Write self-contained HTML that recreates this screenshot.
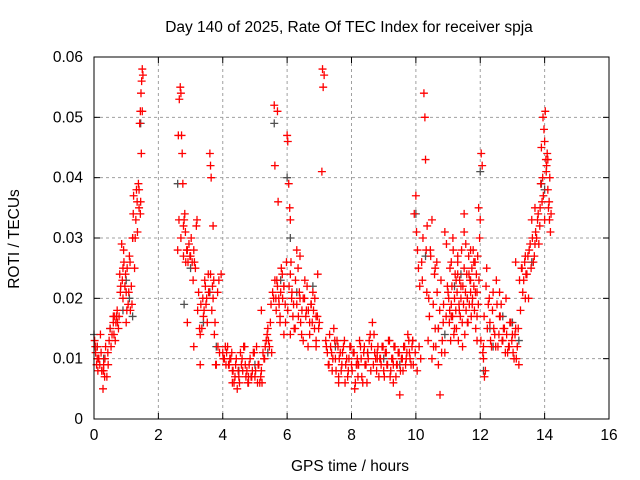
<!DOCTYPE html>
<html><head><meta charset="utf-8"><style>
html,body{margin:0;padding:0;background:#fff;}
svg{display:block;font-family:"Liberation Sans",sans-serif;}
</style></head><body>
<svg id="chart" width="640" height="480" viewBox="0 0 640 480">
<text x="349" y="32" font-size="15.5" text-anchor="middle">Day 140 of 2025, Rate Of TEC Index for receiver spja</text>
<text x="350" y="471" font-size="15.5" text-anchor="middle">GPS time / hours</text>
<text x="19" y="239" font-size="15.5" text-anchor="middle" transform="rotate(-90 19 239)">ROTI / TECUs</text>
<g id="grid"></g><g id="ticks"></g><g id="marks"></g>
<rect x="94" y="57" width="515" height="362" fill="none" stroke="#000" stroke-width="1"/>
</svg>
<script>
const xTicks=[0,2,4,6,8,10,12,14,16];
const yTicks=[0,0.01,0.02,0.03,0.04,0.05,0.06];
const yTickLabels=["0","0.01","0.02","0.03","0.04","0.05","0.06"];
// black series (behind)
const blackT=[0.0,0.1,0.3,0.5,0.9,1.1,1.2,1.45,2.6,2.8,3.0,3.4,3.8,4.5,5.4,5.6,5.8,6.0,6.3,6.8,7.5,8.5,9.5,10.0,10.3,10.7,11.2,11.6,12.0,12.1,12.3,12.7,13.2,13.6,13.9,14.0,0.7,1.0,3.6,5.0,6.1,9.0,10.9,11.4,12.4,13.0];
const blackV=[0.014,0.012,0.01,0.015,0.018,0.02,0.017,0.049,0.039,0.019,0.025,0.016,0.012,0.008,0.011,0.049,0.023,0.04,0.021,0.022,0.012,0.011,0.009,0.034,0.027,0.015,0.022,0.02,0.041,0.008,0.015,0.017,0.013,0.026,0.039,0.038,0.017,0.023,0.021,0.009,0.03,0.01,0.014,0.024,0.012,0.016];
// red series
const redT=[0.02,0.05,0.08,0.1,0.12,0.15,0.18,0.2,0.22,0.25,0.28,0.3,0.33,0.36,0.4,0.43,0.47,0.5,0.53,0.56,0.6,0.63,0.66,0.7,0.73,0.76,0.8,0.83,0.86,0.9,0.93,0.96,1.0,1.03,1.06,1.1,1.13,1.16,1.2,1.23,1.26,1.3,1.32,1.35,1.38,1.4,1.42,1.44,1.46,1.48,1.5,1.52,1.5,1.47,1.45,
2.6,2.62,2.65,2.68,2.7,2.72,2.74,2.76,2.78,2.8,2.82,2.85,2.9,2.95,3.0,3.05,3.1,3.15,3.2,3.25,3.3,3.35,3.38,3.42,3.46,3.5,3.55,3.58,3.6,3.62,3.64,3.68,3.72,3.76,3.8,3.85,3.9,3.95,
4.0,4.05,4.1,4.15,4.2,4.25,4.3,4.35,4.4,4.45,4.5,4.55,4.6,4.65,4.7,4.75,4.8,4.85,4.9,4.95,5.0,5.05,5.1,5.15,5.2,5.25,5.3,5.35,5.4,5.45,5.5,5.55,5.6,5.62,5.65,5.68,5.7,5.72,5.75,5.78,5.8,5.85,5.9,5.95,6.0,6.02,6.05,6.08,6.1,6.12,6.15,6.2,6.25,6.3,6.35,6.4,6.45,6.5,6.55,6.6,6.65,6.7,6.75,6.8,6.85,6.9,6.95,7.0,7.08,7.1,7.12,7.15,7.2,7.25,
7.3,7.35,7.4,7.45,7.5,7.55,7.6,7.65,7.7,7.75,7.8,7.85,7.9,7.95,8.0,8.05,8.1,8.15,8.2,8.25,8.3,8.35,8.4,8.45,8.5,8.55,8.6,8.65,8.7,8.75,8.8,8.85,8.9,8.95,9.0,9.05,9.1,9.15,9.2,9.25,9.3,9.35,9.4,9.45,9.5,9.55,9.6,9.65,9.7,9.75,9.8,9.85,9.9,9.95,10.0,10.02,10.05,10.08,10.1,10.15,10.2,10.25,10.28,10.3,10.32,10.35,10.4,10.45,10.5,10.55,10.6,10.65,10.7,10.75,10.8,10.85,10.9,10.95,
11.0,11.05,11.1,11.15,11.2,11.25,11.3,11.35,11.4,11.45,11.5,11.55,11.6,11.65,11.7,11.75,11.8,11.85,11.9,11.95,12.0,12.03,12.06,12.1,12.13,12.16,12.2,12.25,12.3,12.35,12.4,12.45,12.5,12.55,12.6,12.65,12.7,12.75,12.8,12.85,12.9,12.95,13.0,13.05,13.1,13.15,13.2,13.25,13.3,13.35,13.4,13.45,13.5,13.55,13.6,13.65,13.7,13.75,13.8,13.85,13.88,13.9,13.92,13.95,13.98,14.0,14.02,14.05,14.08,14.1,14.12,14.15,14.18,14.2,
0.1,0.3,0.6,0.9,1.0,1.2,2.9,3.1,3.3,3.7,4.3,4.8,5.2,5.9,6.1,6.4,6.9,7.6,8.2,8.8,9.3,9.9,10.6,11.1,11.3,11.5,11.7,11.9,12.1,12.6,13.1,13.4,13.7,14.0,14.1];
const redV=[0.013,0.011,0.009,0.012,0.008,0.01,0.009,0.014,0.011,0.008,0.005,0.009,0.007,0.012,0.007,0.011,0.013,0.015,0.012,0.014,0.016,0.017,0.013,0.017,0.016,0.015,0.024,0.022,0.029,0.02,0.026,0.022,0.021,0.025,0.019,0.027,0.018,0.022,0.03,0.037,0.025,0.033,0.038,0.031,0.039,0.035,0.049,0.051,0.054,0.056,0.058,0.057,0.051,0.044,0.036,
0.028,0.047,0.053,0.055,0.054,0.047,0.044,0.039,0.032,0.033,0.034,0.026,0.016,0.029,0.027,0.026,0.028,0.025,0.033,0.021,0.014,0.015,0.02,0.018,0.022,0.02,0.024,0.021,0.044,0.042,0.04,0.022,0.023,0.016,0.009,0.012,0.011,0.024,
0.011,0.01,0.009,0.012,0.009,0.01,0.008,0.006,0.009,0.005,0.007,0.011,0.01,0.012,0.009,0.008,0.006,0.01,0.007,0.011,0.007,0.012,0.009,0.006,0.008,0.011,0.01,0.013,0.015,0.012,0.019,0.021,0.052,0.042,0.02,0.023,0.051,0.036,0.019,0.016,0.021,0.024,0.022,0.016,0.047,0.046,0.039,0.035,0.033,0.026,0.021,0.019,0.015,0.028,0.017,0.027,0.014,0.02,0.023,0.018,0.012,0.016,0.019,0.021,0.015,0.012,0.024,0.016,0.041,0.058,0.055,0.057,0.013,0.011,
0.009,0.012,0.008,0.015,0.01,0.013,0.007,0.011,0.009,0.012,0.006,0.01,0.008,0.012,0.009,0.011,0.005,0.009,0.007,0.013,0.01,0.006,0.012,0.009,0.011,0.013,0.008,0.016,0.014,0.01,0.011,0.007,0.01,0.012,0.008,0.011,0.009,0.013,0.007,0.01,0.006,0.012,0.009,0.011,0.004,0.01,0.008,0.012,0.01,0.014,0.011,0.009,0.013,0.034,0.037,0.031,0.028,0.025,0.012,0.01,0.023,0.054,0.05,0.043,0.028,0.032,0.02,0.028,0.033,0.012,0.015,0.026,0.009,0.004,0.011,0.016,0.031,0.029,
0.021,0.018,0.026,0.03,0.015,0.023,0.027,0.018,0.022,0.012,0.034,0.029,0.016,0.024,0.028,0.019,0.026,0.021,0.017,0.035,0.033,0.044,0.042,0.01,0.007,0.008,0.025,0.019,0.016,0.012,0.021,0.014,0.023,0.012,0.017,0.019,0.013,0.015,0.02,0.011,0.012,0.016,0.014,0.01,0.015,0.012,0.009,0.018,0.025,0.023,0.027,0.024,0.02,0.029,0.033,0.026,0.035,0.03,0.034,0.032,0.039,0.045,0.036,0.05,0.048,0.046,0.051,0.041,0.044,0.038,0.035,0.033,0.031,0.034,
0.01,0.008,0.017,0.025,0.016,0.03,0.028,0.012,0.009,0.032,0.006,0.007,0.018,0.014,0.014,0.02,0.017,0.006,0.009,0.01,0.009,0.013,0.025,0.017,0.024,0.031,0.023,0.013,0.012,0.021,0.026,0.02,0.029,0.033,0.043];
// additional red observations (dense regions)
const redT2=[0.04,0.14,0.24,0.34,0.44,0.62,0.68,0.72,0.78,0.82,0.88,0.92,0.98,1.02,1.08,1.12,1.18,1.22,1.28,1.34,1.4,1.44,
2.64,2.7,2.78,2.84,2.88,2.92,2.98,3.02,3.08,3.12,3.18,3.22,3.28,3.32,3.4,3.44,3.48,3.52,3.56,3.62,3.66,3.7,3.74,3.78,3.84,3.88,
4.02,4.08,4.12,4.18,4.22,4.28,4.32,4.38,4.42,4.48,4.52,4.58,4.62,4.68,4.72,4.78,4.82,4.88,4.92,4.98,5.02,5.08,5.12,5.18,5.22,5.28,5.32,5.38,5.42,5.48,5.52,5.58,5.62,5.66,5.7,5.74,5.78,5.82,5.86,5.9,5.94,5.98,6.02,6.06,6.1,6.14,6.18,6.22,6.26,6.3,6.34,6.38,6.42,6.46,6.5,6.54,6.58,6.62,6.66,6.7,6.74,6.78,6.82,6.86,6.9,6.94,6.98,
7.22,7.28,7.32,7.38,7.42,7.48,7.52,7.58,7.62,7.68,7.72,7.78,7.82,7.88,7.92,7.98,8.02,8.08,8.12,8.18,8.22,8.28,8.32,8.38,8.42,8.48,8.52,8.58,8.62,8.68,8.72,8.78,8.82,8.88,8.92,8.98,9.02,9.08,9.12,9.18,9.22,9.28,9.32,9.38,9.42,9.48,9.52,9.58,9.62,9.68,9.72,9.78,9.82,9.88,9.92,9.98,10.04,10.12,10.18,10.22,
10.34,10.38,10.42,10.46,10.5,10.54,10.58,10.62,10.66,10.7,10.74,10.78,10.82,10.86,10.9,10.94,10.98,11.02,11.04,11.06,11.08,11.1,11.12,11.14,11.16,11.18,11.2,11.22,11.24,11.26,11.28,11.3,11.32,11.34,11.36,11.38,11.4,11.42,11.44,11.46,11.48,11.5,11.52,11.54,11.56,11.58,11.6,11.62,11.64,11.66,11.68,11.7,11.72,11.74,11.76,11.78,11.8,11.82,11.84,11.86,11.88,11.9,11.92,11.94,11.96,11.98,12.02,12.08,12.12,12.18,12.22,12.28,12.32,12.38,12.42,12.48,12.52,12.58,12.62,12.68,12.72,12.78,12.82,12.88,12.92,12.98,13.02,13.08,13.12,13.18,13.22,13.28,13.32,13.38,13.42,13.48,13.52,13.58,13.62,13.68,13.72,13.78,13.82,13.86,13.94,13.96,14.04,14.06,14.14,14.16];
const redV2=[0.012,0.01,0.008,0.01,0.009,0.014,0.016,0.018,0.017,0.021,0.023,0.028,0.024,0.018,0.021,0.026,0.019,0.034,0.03,0.036,0.038,0.034,
0.033,0.03,0.027,0.031,0.028,0.026,0.027,0.03,0.023,0.026,0.032,0.018,0.015,0.019,0.017,0.023,0.019,0.016,0.021,0.024,0.018,0.02,0.014,0.009,0.021,0.023,
0.01,0.012,0.011,0.009,0.01,0.011,0.008,0.007,0.01,0.008,0.006,0.009,0.008,0.012,0.007,0.006,0.009,0.007,0.008,0.011,0.008,0.006,0.009,0.007,0.006,0.01,0.012,0.014,0.013,0.016,0.011,0.02,0.023,0.018,0.022,0.02,0.017,0.025,0.02,0.022,0.019,0.026,0.018,0.022,0.024,0.02,0.017,0.015,0.023,0.019,0.025,0.021,0.016,0.018,0.013,0.02,0.017,0.022,0.018,0.014,0.019,0.016,0.018,0.02,0.013,0.017,0.015,
0.012,0.009,0.014,0.011,0.01,0.013,0.008,0.012,0.01,0.008,0.011,0.013,0.009,0.007,0.01,0.012,0.008,0.011,0.006,0.01,0.009,0.012,0.007,0.011,0.009,0.006,0.01,0.014,0.012,0.009,0.011,0.008,0.012,0.01,0.009,0.012,0.007,0.011,0.009,0.013,0.008,0.01,0.012,0.007,0.009,0.011,0.008,0.01,0.012,0.009,0.011,0.013,0.01,0.012,0.009,0.011,0.008,0.022,0.026,0.03,
0.021,0.013,0.017,0.027,0.01,0.019,0.024,0.012,0.021,0.015,0.018,0.023,0.013,0.019,0.011,0.017,0.022,0.02,0.016,0.025,0.013,0.019,0.022,0.017,0.028,0.014,0.02,0.024,0.018,0.015,0.021,0.026,0.013,0.019,0.023,0.017,0.02,0.028,0.016,0.022,0.019,0.025,0.014,0.021,0.018,0.024,0.02,0.016,0.027,0.019,0.023,0.021,0.017,0.025,0.02,0.028,0.022,0.018,0.026,0.015,0.024,0.021,0.027,0.019,0.023,0.03,0.013,0.011,0.017,0.022,0.015,0.02,0.013,0.018,0.015,0.012,0.019,0.014,0.017,0.013,0.015,0.011,0.014,0.012,0.016,0.013,0.011,0.014,0.01,0.015,0.023,0.025,0.021,0.026,0.024,0.027,0.028,0.025,0.03,0.027,0.031,0.033,0.029,0.035,0.04,0.037,0.043,0.042,0.036,0.04];
const X0=94,X1=609,Y0=419,Y1=57;
const xs=v=>X0+(v-0)/(16-0)*(X1-X0);
const ys=v=>Y0-(v-0)/(0.06-0)*(Y0-Y1);
const NS="http://www.w3.org/2000/svg";
const grid=document.getElementById('grid'),ticks=document.getElementById('ticks'),marks=document.getElementById('marks');
function mk(tag,attrs,parent){const e=document.createElementNS(NS,tag);for(const k in attrs)e.setAttribute(k,attrs[k]);parent.appendChild(e);return e;}
xTicks.forEach((t,i)=>{const x=xs(t);
 if(i>0&&i<xTicks.length-1){const g=mk('line',{x1:x,x2:x,y1:Y1,y2:Y0,stroke:'#a0a0a0','stroke-dasharray':'3,3'},grid);
 
 }
 mk('line',{x1:x,x2:x,y1:Y0,y2:Y0-6,stroke:'#000'},ticks);mk('line',{x1:x,x2:x,y1:Y1,y2:Y1+6,stroke:'#000'},ticks);
 const l=mk('text',{x:x,y:Y0+21,'font-size':15.5,'text-anchor':'middle'},ticks);l.textContent=String(t);
 
 });
yTicks.forEach((t,i)=>{const y=ys(t);
 if(i>0&&i<yTicks.length-1){const g=mk('line',{x1:X0,x2:X1,y1:y,y2:y,stroke:'#a0a0a0','stroke-dasharray':'3,3'},grid);
 
 }
 mk('line',{x1:X0,x2:X0+6,y1:y,y2:y,stroke:'#000'},ticks);mk('line',{x1:X1,x2:X1-6,y1:y,y2:y,stroke:'#000'},ticks);
 const l=mk('text',{x:X0-11,y:y+5,'font-size':15.5,'text-anchor':'end'},ticks);l.textContent=yTickLabels[i];
 
 });
function plus(t,v,color,name){const x=xs(t),y=ys(v);
 const p=mk('path',{d:`M${x-4},${y}H${x+4}M${x},${y-4}V${y+4}`,stroke:color,'stroke-width':1.3,fill:'none'},marks);
 
 }
blackT.forEach((t,i)=>plus(t,blackV[i],'#505050','black-point'));
redT.forEach((t,i)=>plus(t,redV[i],'#f00','red-point'));
redT2.forEach((t,i)=>plus(t,redV2[i],'#f00','red-point'));
</script>
</body></html>
